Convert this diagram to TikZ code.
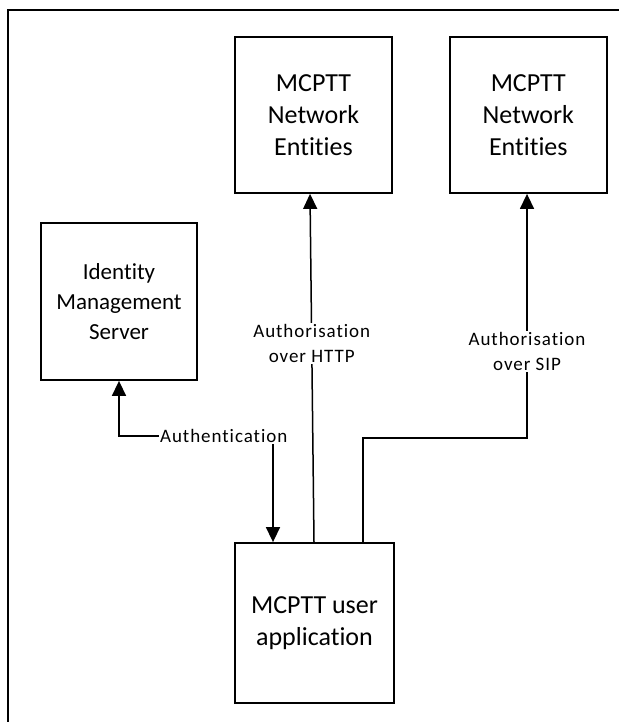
\documentclass[tikz,border=0pt]{standalone}
\usepackage{fontspec}
\setmainfont[Ligatures=NoCommon]{Carlito}
\newfontfamily\lblfont[LetterSpace=5,Ligatures=NoCommon]{Carlito}
\usetikzlibrary{arrows.meta,positioning}
\tikzset{
    %Define standard arrow tip
    >={Triangle[length=15pt,width=14pt]},
    %Define style for boxes
    kasten/.style={
           rectangle,
           draw=black, line width=1.8pt,
           minimum width=157pt,
           minimum height=156pt,
           align=center,
           font=\fontsize{26}{32}\selectfont},
    % Define arrow style
    pil/.style={
           ->,
           line width=1.5pt},
    % Define style for connector labels
    etikett/.style={
           fill=white,
           inner sep=1pt,
           align=center,
           font=\lblfont\fontsize{19}{25}\selectfont}
}
\begin{document}
\begin{tikzpicture}[x=1pt,y=-1pt]
  \useasboundingbox (0,0) rectangle (619,722);
  % outer frame, cut at the right and bottom
  \draw[line width=1.5pt] (8,722) -- (8,10) -- (619,10);

  \node[kasten] (ne1) at (313.5,115) {MCPTT\\Network\\Entities};
  \node[kasten] (ne2) [right=56pt of ne1] {MCPTT\\Network\\Entities};
  \node[kasten, minimum width=156pt, minimum height=157pt,
        font=\fontsize{23}{30}\selectfont] (ims) at (119,301.5) {Identity\\Management\\Server};
  \node[kasten, minimum width=159pt, minimum height=160pt] (app) at (314.5,623) {MCPTT user\\application};

  \coordinate (sipbend) at (527,438);
  \coordinate (authbend) at (273,436);

  \draw[pil]
      ([xshift=-0.5pt]app.north) -- node[etikett, pos=0.57] {Authorisation\\over HTTP} ([xshift=-3.5pt]ne1.south);
  \draw[pil]
      ([xshift=48.5pt]app.north) |- (sipbend) -- node[etikett, pos=0.355] {Authorisation\\over SIP} (sipbend |- ne2.south);
  \draw[pil, <->]
      (authbend |- app.north) -- (authbend) -- node[etikett, pos=0.32] {Authentication} (ims.south |- authbend) -- (ims.south);
\end{tikzpicture}
\end{document}
